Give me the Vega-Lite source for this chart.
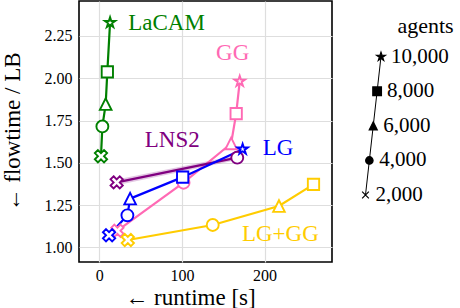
{
  "$schema": "https://vega.github.io/schema/vega-lite/v6.json",
  "width": 253,
  "height": 261,
  "autosize": "none",
  "padding": {"left": 79, "top": 1, "right": 128, "bottom": 46},
  "config": {
    "font": "Liberation Serif",
    "view": {"stroke": "black", "strokeWidth": 1.6},
    "axis": {
      "domain": false,
      "ticks": false,
      "labelFont": "Liberation Serif",
      "labelFontSize": 16,
      "labelColor": "black",
      "titleFont": "Liberation Serif",
      "titleFontSize": 23,
      "titleFontWeight": "normal",
      "titleColor": "black",
      "gridColor": "#dedede",
      "gridWidth": 1.2
    }
  },
  "datasets": {
    "runs": [
      {"series": "LaCAM", "agents": 2000, "runtime": 2, "ratio": 1.539},
      {"series": "LaCAM", "agents": 4000, "runtime": 3.7, "ratio": 1.715},
      {"series": "LaCAM", "agents": 6000, "runtime": 7.7, "ratio": 1.847},
      {"series": "LaCAM", "agents": 8000, "runtime": 9.7, "ratio": 2.038},
      {"series": "LaCAM", "agents": 10000, "runtime": 13, "ratio": 2.329},
      {"series": "GG", "agents": 2000, "runtime": 21.9, "ratio": 1.098},
      {"series": "GG", "agents": 4000, "runtime": 102, "ratio": 1.382},
      {"series": "GG", "agents": 6000, "runtime": 159.6, "ratio": 1.614},
      {"series": "GG", "agents": 8000, "runtime": 165.7, "ratio": 1.791},
      {"series": "GG", "agents": 10000, "runtime": 170, "ratio": 1.982},
      {"series": "LNS2", "agents": 2000, "runtime": 21, "ratio": 1.384, "lo": 1.367, "hi": 1.401},
      {"series": "LNS2", "agents": 4000, "runtime": 167, "ratio": 1.53, "lo": 1.516, "hi": 1.544},
      {"series": "LG", "agents": 2000, "runtime": 11.8, "ratio": 1.071},
      {"series": "LG", "agents": 4000, "runtime": 34, "ratio": 1.189},
      {"series": "LG", "agents": 6000, "runtime": 37.3, "ratio": 1.288},
      {"series": "LG", "agents": 8000, "runtime": 100.9, "ratio": 1.415},
      {"series": "LG", "agents": 10000, "runtime": 173.5, "ratio": 1.58},
      {"series": "LG+GG", "agents": 2000, "runtime": 34.5, "ratio": 1.043},
      {"series": "LG+GG", "agents": 4000, "runtime": 137.3, "ratio": 1.132},
      {"series": "LG+GG", "agents": 6000, "runtime": 217.5, "ratio": 1.244},
      {"series": "LG+GG", "agents": 8000, "runtime": 259.3, "ratio": 1.372}
    ],
    "labels": [
      {"series": "LaCAM", "runtime": 35, "ratio": 2.329, "align": "left"},
      {"series": "GG", "runtime": 161.4, "ratio": 2.148, "align": "center"},
      {"series": "LNS2", "runtime": 88.3, "ratio": 1.636, "align": "center"},
      {"series": "LG", "runtime": 216.5, "ratio": 1.589, "align": "center"},
      {"series": "LG+GG", "runtime": 219.2, "ratio": 1.08, "align": "center"}
    ],
    "agentsLegend": [
      {"agents": 2000},
      {"agents": 4000},
      {"agents": 6000},
      {"agents": 8000},
      {"agents": 10000}
    ]
  },
  "resolve": {
    "scale": {"x": "independent", "y": "independent", "shape": "independent", "size": "independent", "color": "independent"},
    "axis": {"x": "independent", "y": "independent"}
  },
  "layer": [
    {
      "encoding": {
        "x": {
          "field": "runtime", "type": "quantitative",
          "scale": {"domain": [-24.6, 281.7], "nice": false, "zero": false},
          "axis": {"values": [0, 100, 200], "labelPadding": 5, "title": "← runtime [s]", "titleX": 111, "titleY": 35, "titleBaseline": "middle", "titleAnchor": "middle"}
        },
        "y": {
          "field": "ratio", "type": "quantitative",
          "scale": {"domain": [0.913, 2.457], "nice": false, "zero": false},
          "axis": {"values": [1, 1.25, 1.5, 1.75, 2, 2.25], "format": ".2f", "labelPadding": 7, "title": "← flowtime / LB", "titleX": -67, "titleY": 130.5, "titleAngle": -90, "titleBaseline": "middle", "titleAlign": "center"}
        },
        "color": {
          "field": "series", "type": "nominal",
          "scale": {"domain": ["LaCAM", "GG", "LNS2", "LG", "LG+GG"], "range": ["#008000", "#ff69b4", "#800080", "#0000ff", "#ffcc00"]},
          "legend": null
        }
      },
      "layer": [
        {
          "data": {"name": "runs"},
          "transform": [{"filter": "datum.series === 'LNS2'"}],
          "mark": {"type": "area", "opacity": 0.22},
          "encoding": {
            "y": {"field": "lo", "type": "quantitative"},
            "y2": {"field": "hi"}
          }
        },
        {
          "data": {"name": "runs"},
          "mark": {"type": "line", "strokeWidth": 2.2},
          "encoding": {
            "order": {"field": "agents", "type": "quantitative"}
          }
        },
        {
          "data": {"name": "runs"},
          "mark": {"type": "point", "filled": false, "fill": "white", "fillOpacity": 1, "strokeWidth": 1.9, "opacity": 1},
          "encoding": {
            "shape": {
              "field": "agents", "type": "ordinal",
              "scale": {"domain": [2000, 4000, 6000, 8000, 10000], "range": [
                "M-0.5,-1L0,-0.5L0.5,-1L1,-0.5L0.5,0L1,0.5L0.5,1L0,0.5L-0.5,1L-1,0.5L-0.5,0L-1,-0.5Z",
                "circle",
                "M0,-1L1,1L-1,1Z",
                "square",
                "M0,-1L0.2245,-0.309L0.951,-0.309L0.363,0.118L0.588,0.809L0,0.382L-0.588,0.809L-0.363,0.118L-0.951,-0.309L-0.2245,-0.309Z"
              ]},
              "legend": null
            },
            "size": {
              "field": "agents", "type": "ordinal",
              "scale": {"domain": [2000, 4000, 6000, 8000, 10000], "range": [150, 120, 125, 120, 380]},
              "legend": null
            }
          }
        },
        {
          "data": {"name": "labels"},
          "transform": [{"filter": "datum.align === 'left'"}],
          "mark": {"type": "text", "fontSize": 23, "align": "left", "baseline": "middle"},
          "encoding": {"text": {"field": "series"}}
        },
        {
          "data": {"name": "labels"},
          "transform": [{"filter": "datum.align === 'center'"}],
          "mark": {"type": "text", "fontSize": 23, "align": "center", "baseline": "middle"},
          "encoding": {"text": {"field": "series"}}
        }
      ]
    },
    {
      "data": {"name": "agentsLegend"},
      "encoding": {
        "x": {
          "field": "agents", "type": "quantitative",
          "scale": {"domain": [-145871, -15290], "nice": false, "zero": false},
          "axis": {"orient": "top", "labels": false, "ticks": false, "domain": false, "grid": false, "title": "agents", "titleFontSize": 22, "titleX": 346, "titleY": 24, "titleBaseline": "middle", "titleAlign": "center", "titleAnchor": "middle"}
        },
        "y": {
          "field": "agents", "type": "quantitative",
          "scale": {"domain": [-1876, 13222], "nice": false, "zero": false},
          "axis": null
        }
      },
      "layer": [
        {
          "mark": {"type": "line", "color": "black", "strokeWidth": 1},
          "encoding": {"order": {"field": "agents", "type": "quantitative"}}
        },
        {
          "mark": {"type": "point", "filled": true, "color": "black", "stroke": "black", "strokeWidth": 1.2, "opacity": 1},
          "encoding": {
            "shape": {
              "field": "agents", "type": "ordinal",
              "scale": {"domain": [2000, 4000, 6000, 8000, 10000], "range": [
                "M-1,-1L1,1M-1,1L1,-1",
                "circle",
                "M0,-1L1,1L-1,1Z",
                "square",
                "M0,-1L0.2245,-0.309L0.951,-0.309L0.363,0.118L0.588,0.809L0,0.382L-0.588,0.809L-0.363,0.118L-0.951,-0.309L-0.2245,-0.309Z"
              ]},
              "legend": null
            },
            "size": {
              "field": "agents", "type": "ordinal",
              "scale": {"domain": [2000, 4000, 6000, 8000, 10000], "range": [45, 85, 130, 125, 220]},
              "legend": null
            }
          }
        },
        {
          "mark": {"type": "text", "fontSize": 21, "align": "left", "baseline": "middle", "dx": 10, "color": "black"},
          "encoding": {"text": {"field": "agents", "type": "quantitative", "format": ","}}
        }
      ]
    }
  ]
}
